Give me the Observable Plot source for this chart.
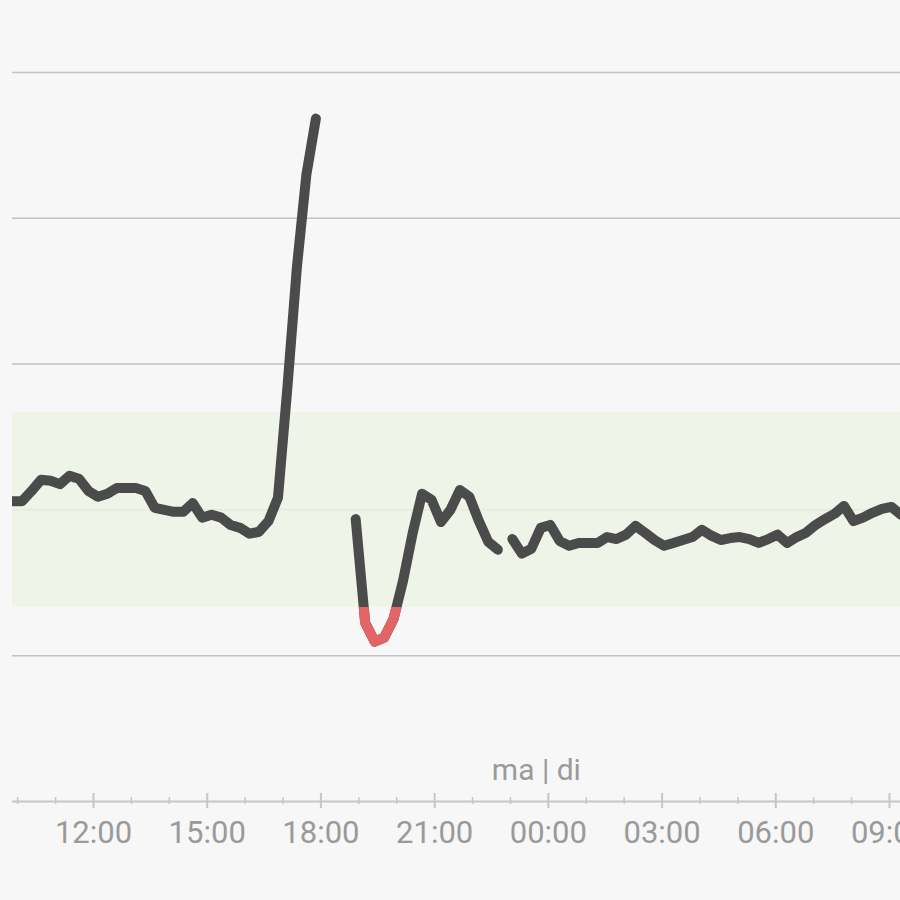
<!DOCTYPE html>
<html>
<head>
<meta charset="utf-8">
<script src="https://cdn.jsdelivr.net/npm/d3@7"></script>
<script src="https://cdn.jsdelivr.net/npm/@observablehq/plot@0.6"></script>
<style>
  html, body { margin: 0; padding: 0; background: #f7f7f7; overflow: hidden; }
  #chart svg { display: block; }
</style>
</head>
<body>
<div id="chart"></div>
<script>
// ---- data (glucose, mmol/L; readings every 15 minutes) ----
const seg1Start = "09:52";   // maandag
const seg1Values = [6.18, 6.18, 6.39, 6.62, 6.60, 6.53, 6.70, 6.64, 6.39, 6.27, 6.33, 6.45, 6.45, 6.45, 6.39, 6.04, 6.00, 5.96, 5.96, 6.14, 5.84, 5.90, 5.84, 5.69, 5.63, 5.51, 5.55, 5.77, 6.25, 8.53, 11.0, 12.9, 14.05];
const seg2Start = "18:55";   // maandag
const seg2Values = [5.81, 3.68, 3.29, 3.37, 3.76, 4.54, 5.51, 6.33, 6.21, 5.75, 6.00, 6.41, 6.27, 5.77, 5.34, 5.18];
const seg3Start = "23:03";   // maandag, loopt door tot dinsdag
const seg3Values = [5.40, 5.10, 5.20, 5.63, 5.69, 5.36, 5.26, 5.32, 5.32, 5.32, 5.44, 5.40, 5.49, 5.67, 5.53, 5.38, 5.26, 5.32, 5.38, 5.44, 5.59, 5.47, 5.38, 5.42, 5.44, 5.40, 5.32, 5.40, 5.49, 5.32, 5.44, 5.53, 5.69, 5.81, 5.92, 6.08, 5.77, 5.84, 5.94, 6.02, 6.06, 5.90];
const stepMinutes = 15;

const targetLow = 4;
const targetHigh = 8;
const gridValues = [3, 6, 9, 12, 15];

const xStartHour = 9.863;   // visible window: ma ~09:52 .. di ~09:17
const xEndHour = 33.29;
const yMax = 16.48;

const majorTickHours = [12, 15, 18, 21, 24, 27, 30, 33];
const majorTickLabels = ["12:00", "15:00", "18:00", "21:00", "00:00", "03:00", "06:00", "09:00"];
const minorTickHours = [10, 11, 13, 14, 16, 17, 19, 20, 22, 23, 25, 26, 28, 29, 31, 32];
const dayLabels = ["ma", "di"];
const dayChangeHour = 24;

// ---- build table ----
function toHour(s) { const [h, m] = s.split(":").map(Number); return h + m / 60; }
const rows = [];
[[seg1Start, seg1Values], [seg2Start, seg2Values], [seg3Start, seg3Values]].forEach(([start, vals], si) => {
  const t0 = toHour(start);
  vals.forEach((v, i) => rows.push({seg: si, t: t0 + i * stepMinutes / 60, v}));
});
const lowSeg = rows.filter(d => d.seg === 1);

const lineColor = "#4b4b4b";
const lowColor = "#e36464";
const tickColor = "#c6c6c6";
const labelColor = "#9a9a9a";

const chart = Plot.plot({
  width: 900,
  height: 900,
  marginLeft: 12,
  marginRight: 0,
  marginTop: 0,
  marginBottom: 99,
  style: "background:#f7f7f7; overflow:hidden; font-family: Roboto, 'Noto Sans', sans-serif;",
  x: {domain: [xStartHour, xEndHour], axis: null},
  y: {domain: [0, yMax], axis: null},
  marks: [
    Plot.ruleY(gridValues, {stroke: "#c2c2c2", strokeWidth: 1.5}),
    Plot.rect([{y1: targetLow, y2: targetHigh}], {y1: "y1", y2: "y2", fill: "rgb(236,243,228)", fillOpacity: 0.82}),
    Plot.ruleY([0], {stroke: tickColor, strokeWidth: 2}),
    Plot.ruleX(majorTickHours, {x: d => d, y1: 0, y2: 0, insetTop: 7, insetBottom: 8, stroke: tickColor, strokeWidth: 2}),
    Plot.ruleX(minorTickHours, {x: d => d, y1: 0, y2: 0, insetTop: 3, insetBottom: 4, stroke: tickColor, strokeWidth: 1.5}),
    Plot.text(majorTickHours, {x: d => d, y: 0, text: (d, i) => majorTickLabels[i], dy: 41, lineAnchor: "bottom", fontSize: 31, fill: labelColor, textAnchor: "middle"}),
    Plot.text([dayLabels.join(" | ")], {x: dayChangeHour, y: 0, text: d => d, dy: -22, dx: -12, lineAnchor: "bottom", fontSize: 30, fill: labelColor, textAnchor: "middle"}),
    Plot.line(rows, {x: "t", y: "v", z: "seg", stroke: lineColor, strokeWidth: 10, strokeLinecap: "round", strokeLinejoin: "round", clip: true}),
    Plot.line(lowSeg, {x: "t", y: "v", stroke: lowColor, strokeWidth: 10, strokeLinecap: "round", strokeLinejoin: "round"})
  ]
});

// colour only the part below the target range red: clip the red copy at y(targetLow)
const yScale = chart.scale("y");
const yCut = yScale.apply(targetLow);
const ns = "http://www.w3.org/2000/svg";
const defs = document.createElementNS(ns, "defs");
const cp = document.createElementNS(ns, "clipPath");
cp.setAttribute("id", "below-target");
const r = document.createElementNS(ns, "rect");
r.setAttribute("x", 0); r.setAttribute("y", yCut);
r.setAttribute("width", 900); r.setAttribute("height", 900 - yCut);
cp.appendChild(r); defs.appendChild(cp); chart.insertBefore(defs, chart.firstChild);
chart.querySelectorAll("g").forEach(g => {
  if (g.getAttribute("stroke") === lowColor) g.setAttribute("clip-path", "url(#below-target)");
});

document.getElementById("chart").appendChild(chart);
</script>
</body>
</html>
